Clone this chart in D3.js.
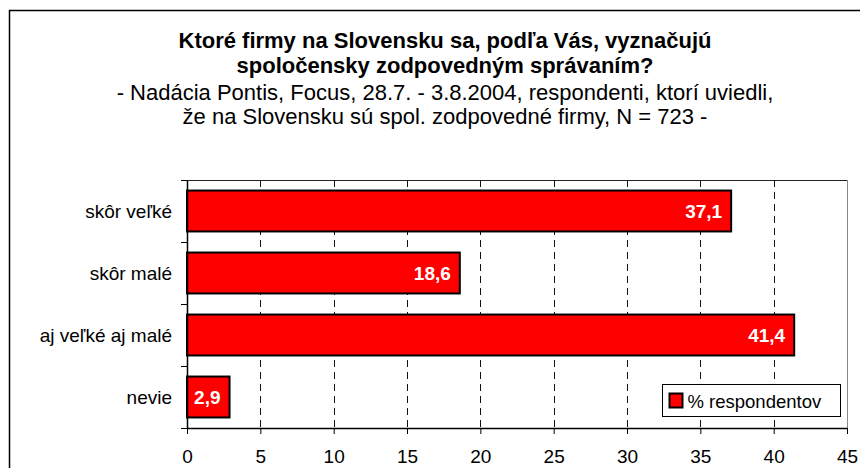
<!DOCTYPE html>
<html>
<head>
<meta charset="utf-8">
<script src="https://cdn.jsdelivr.net/npm/d3@7"></script>
<style>
  body { margin: 0; background: #fff; }
  svg { display: block; font-family: "Liberation Sans", Arial, sans-serif; }
</style>
</head>
<body>
<svg id="chart"></svg>
<script>
// chart data
const titleLines = ["Ktoré firmy na Slovensku sa, podľa Vás, vyznačujú", "spoločensky zodpovedným správaním?"];
const subtitleLines = ["- Nadácia Pontis, Focus, 28.7. - 3.8.2004, respondenti, ktorí uviedli,", "že na Slovensku sú spol. zodpovedné firmy, N = 723 -"];
const categories = ["skôr veľké", "skôr malé", "aj veľké aj malé", "nevie"];
const values = [37.1, 18.6, 41.4, 2.9];
const xTicks = [0, 5, 10, 15, 20, 25, 30, 35, 40, 45];
const seriesName = "% respondentov";

const width = 860, height = 468;
const margin = { top: 180, right: 11, bottom: 40, left: 187 };

const svg = d3.select("#chart")
  .attr("width", width)
  .attr("height", height);

// outer frame (cut off at right and bottom like the original)
svg.append("rect")
  .attr("x", 9.5)
  .attr("y", 10.5)
  .attr("width", 900)
  .attr("height", 500)
  .attr("fill", "none")
  .attr("stroke", "#000")
  .attr("stroke-width", 1.5);

// titles
const cx = 445;
svg.selectAll(".title")
  .data(titleLines)
  .enter()
  .append("text")
  .attr("class", "title")
  .attr("x", cx)
  .attr("y", (d, i) => 47.5 + i * 25)
  .attr("text-anchor", "middle")
  .style("font-weight", "bold")
  .style("font-size", "22px")
  .text(d => d);

svg.selectAll(".subtitle")
  .data(subtitleLines)
  .enter()
  .append("text")
  .attr("class", "subtitle")
  .attr("x", cx)
  .attr("y", (d, i) => 100 + i * 24)
  .attr("text-anchor", "middle")
  .style("font-size", "22px")
  .text(d => d);

// scales
const x = d3.scaleLinear()
  .domain([0, 45])
  .range([margin.left, width - margin.right - 2]);

const y = d3.scaleBand()
  .domain(categories)
  .range([margin.top, height - margin.bottom])
  .paddingInner(0.34)
  .paddingOuter(0.17);

const yEdges = d3.scaleLinear()
  .domain([0, categories.length])
  .range([margin.top, height - margin.bottom]);

const plotBottom = height - margin.bottom;

// plot area border (top and right)
svg.append("line")
  .attr("x1", x(0)).attr("x2", x(45))
  .attr("y1", margin.top + 0.5).attr("y2", margin.top + 0.5)
  .attr("stroke", "#222");
svg.append("line")
  .attr("x1", x(45) + 0.5).attr("x2", x(45) + 0.5)
  .attr("y1", margin.top).attr("y2", plotBottom)
  .attr("stroke", "#888");

// dashed grid
svg.append("g")
  .selectAll("line")
  .data(xTicks.filter(t => t > 0 && t < 45))
  .enter()
  .append("line")
  .attr("x1", d => Math.round(x(d)) + 0.5)
  .attr("x2", d => Math.round(x(d)) + 0.5)
  .attr("y1", margin.top)
  .attr("y2", plotBottom)
  .attr("stroke", "#111")
  .attr("stroke-dasharray", "7,5");

// bars
svg.append("g")
  .selectAll(".bar")
  .data(values)
  .enter()
  .append("rect")
  .attr("class", "bar")
  .attr("x", x(0))
  .attr("y", (d, i) => y(categories[i]))
  .attr("width", d => x(d) - x(0))
  .attr("height", y.bandwidth())
  .attr("fill", "#ff0000")
  .attr("stroke", "#000")
  .attr("stroke-width", 2);

// value labels
svg.append("g")
  .selectAll(".val")
  .data(values)
  .enter()
  .append("text")
  .attr("class", "val")
  .attr("x", d => x(d) - 9)
  .attr("y", (d, i) => y(categories[i]) + y.bandwidth() / 2 + 7)
  .attr("text-anchor", "end")
  .attr("fill", "#fff")
  .style("font-weight", "bold")
  .style("font-size", "19px")
  .text(d => d.toFixed(1).replace(".", ","));

// x axis
const xAxis = svg.append("g")
  .attr("transform", `translate(0, ${plotBottom})`)
  .call(d3.axisBottom(x).tickValues(xTicks).tickSize(6).tickPadding(16).tickSizeOuter(0));
xAxis.select(".domain").attr("stroke", "#000").attr("stroke-width", 1.5);
xAxis.selectAll("line").attr("stroke", "#000");
xAxis.selectAll("text")
  .attr("fill", "#000")
  .style("font-size", "19px")
  .style("font-family", "'Liberation Sans', Arial, sans-serif");

// y axis: ticks at category edges, labels in the middle
const yAxis = svg.append("g")
  .attr("transform", `translate(${margin.left}, 0)`)
  .call(d3.axisLeft(yEdges).ticks(categories.length).tickFormat("").tickSize(6).tickSizeOuter(0));
yAxis.select(".domain").attr("stroke", "#000").attr("stroke-width", 1.5);
yAxis.selectAll("line").attr("stroke", "#000");

svg.append("g")
  .selectAll(".cat")
  .data(categories)
  .enter()
  .append("text")
  .attr("class", "cat")
  .attr("x", margin.left - 15)
  .attr("y", d => y(d) + y.bandwidth() / 2 + 7)
  .attr("text-anchor", "end")
  .style("font-size", "19px")
  .text(d => d);

// legend
const legend = svg.append("g").attr("transform", "translate(662.5, 384.5)");
legend.append("rect")
  .attr("width", 178)
  .attr("height", 32)
  .attr("fill", "#fff")
  .attr("stroke", "#000");
legend.append("rect")
  .attr("x", 7)
  .attr("y", 9)
  .attr("width", 13)
  .attr("height", 14)
  .attr("fill", "#ff0000")
  .attr("stroke", "#000")
  .attr("stroke-width", 2);
legend.append("text")
  .attr("x", 25)
  .attr("y", 23)
  .style("font-size", "18.5px")
  .text(seriesName);
</script>
</body>
</html>
